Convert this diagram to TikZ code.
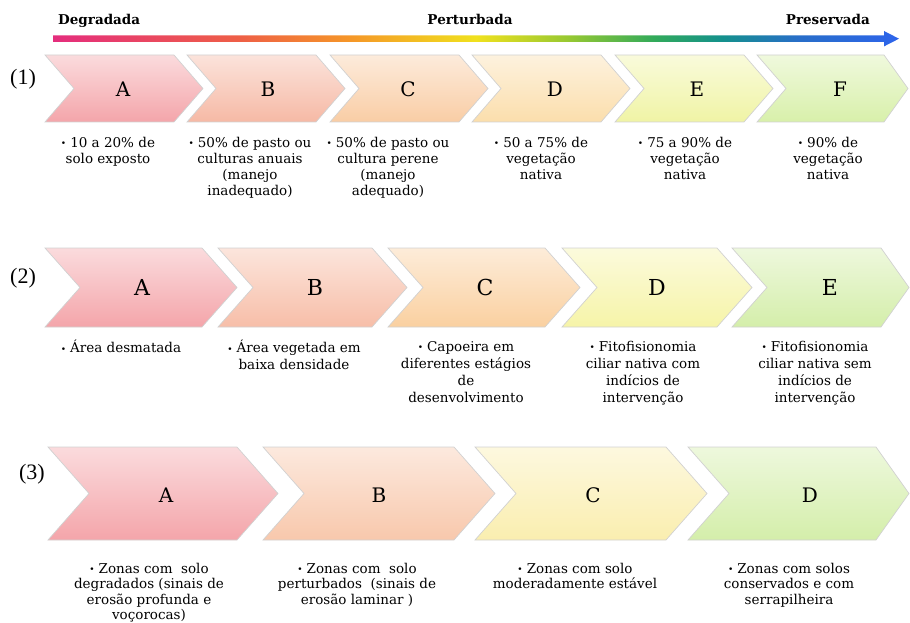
\documentclass[tikz,border=0pt]{standalone}
\usepackage{fontspec}
\setmainfont{DejaVu Serif}
\newfontfamily\timesfont{Liberation Serif}
\definecolor{sp1}{RGB}{228,45,125}
\definecolor{sp2}{RGB}{238,95,70}
\definecolor{sp3}{RGB}{245,150,40}
\definecolor{sp4}{RGB}{240,225,30}
\definecolor{sp5}{RGB}{150,200,50}
\definecolor{sp6}{RGB}{50,170,90}
\definecolor{sp7}{RGB}{20,145,140}
\definecolor{sp8}{RGB}{40,110,200}
\definecolor{sp9}{RGB}{45,100,235}
\pgfdeclarehorizontalshading{spectrum}{100bp}{color(0bp)=(sp1); color(25bp)=(sp1); color(36bp)=(sp2); color(42.5bp)=(sp3); color(50bp)=(sp4); color(55.5bp)=(sp5); color(60.5bp)=(sp6); color(64.5bp)=(sp7); color(69bp)=(sp8); color(75bp)=(sp9); color(100bp)=(sp9)}
\definecolor{rA}{RGB}{244,165,170}
\definecolor{rB}{RGB}{246,185,165}
\definecolor{rC}{RGB}{249,205,165}
\definecolor{rD}{RGB}{251,222,172}
\definecolor{rE}{RGB}{240,244,165}
\definecolor{rF}{RGB}{216,240,170}
\definecolor{sB}{RGB}{247,190,168}
\definecolor{sC}{RGB}{250,208,160}
\definecolor{sD}{RGB}{246,244,168}
\definecolor{sE}{RGB}{212,238,170}
\definecolor{tB}{RGB}{248,200,172}
\definecolor{tC}{RGB}{250,238,175}
% #1 left x, #2 top y, #3 bottom y, #4 tip x, #5 left depth, #6 right depth, #7 colour
\newcommand\drawchev[7]{%
  \shade[chevfill=#7] (#1,#2) -- ({#4-#6},#2) -- (#4,{(#2+#3)/2}) -- ({#4-#6},#3) -- (#1,#3) -- ({#1+#5},{(#2+#3)/2}) -- cycle;}
\newcommand\bul{{\fontsize{9}{9}\selectfont\raisebox{0.6pt}{•}}\hspace{4pt}}
\begin{document}
\begin{tikzpicture}[x=1pt,y=-1pt,
  chevfill/.style={draw=black!18, line width=0.7pt, top color=#1!40!white, bottom color=#1},
  bigletter/.style={font=\fontsize{20}{20}\selectfont, inner sep=0},
  bigletterb/.style={font=\fontsize{22}{22}\selectfont, inner sep=0},
  desc/.style={font=\fontsize{13.5}{16}\selectfont, align=center, inner sep=0, anchor=north},
  descb/.style={font=\fontsize{13.5}{17}\selectfont, align=center, inner sep=0, anchor=north},
  descc/.style={font=\fontsize{13.5}{15.5}\selectfont, align=center, inner sep=0, anchor=north},
  title/.style={font=\bfseries\fontsize{13.5}{13.5}\selectfont, inner sep=0},
  rowlabel/.style={font=\timesfont\fontsize{22}{22}\selectfont, inner sep=0}]
\useasboundingbox (0,0) rectangle (910,623);

% scale bar
\shade[shading=spectrum] (53,35.5) -- (884,35.5) -- (884,31) -- (899,38.7) -- (884,46.4) -- (884,42) -- (53,42) -- cycle;
\node[title, anchor=base west] (tdeg) at (58,25) {Degradada};
\node[title, anchor=base] (tper) at (470,25) {Perturbada};
\node[title, anchor=base east] (tpre) at (870,25) {Preservada};

% row labels
\node[rowlabel] (l1) at (23,79) {(1)};
\node[rowlabel] (l2) at (23,278) {(2)};
\node[rowlabel] (l3) at (32,474) {(3)};

% row 1
\drawchev{45}{55}{122}{203}{29}{29}{rA}
\drawchev{187}{55}{122}{345}{29}{29}{rB}
\drawchev{330}{55}{122}{488}{29}{29}{rC}
\drawchev{472}{55}{122}{630}{29}{29}{rD}
\drawchev{615}{55}{122}{773}{29}{29}{rE}
\drawchev{757}{55}{122}{908}{29}{24}{rF}
\node[bigletter] (a1) at (123,89) {A};
\node[bigletter] (b1) at (268,89) {B};
\node[bigletter] (c1) at (408,89) {C};
\node[bigletter] (d1) at (555,89) {D};
\node[bigletter] (e1) at (697,89) {E};
\node[bigletter] (f1) at (840,89) {F};
\node[desc] (ta1) at (108,136) {\rule{0pt}{11pt}\bul 10 a 20\% de\\solo exposto};
\node[desc] (tb1) at (250,136) {\rule{0pt}{11pt}\bul 50\% de pasto ou\\culturas anuais\\(manejo\\inadequado)};
\node[desc] (tc1) at (388,136) {\rule{0pt}{11pt}\bul 50\% de pasto ou\\cultura perene\\(manejo\\adequado)};
\node[desc] (td1) at (541,136) {\rule{0pt}{11pt}\bul 50 a 75\% de\\vegetação\\nativa};
\node[desc] (te1) at (685,136) {\rule{0pt}{11pt}\bul 75 a 90\% de\\vegetação\\nativa};
\node[desc] (tf1) at (828,136) {\rule{0pt}{11pt}\bul 90\% de\\vegetação\\nativa};

% row 2
\drawchev{45}{248}{327}{237}{35}{35}{rA}
\drawchev{218}{248}{327}{407}{35}{35}{sB}
\drawchev{388}{248}{327}{580}{35}{35}{sC}
\drawchev{562}{248}{327}{752}{35}{35}{sD}
\drawchev{732}{248}{327}{909}{35}{28}{sE}
\node[bigletterb] (a2) at (142,287) {A};
\node[bigletterb] (b2) at (315,287) {B};
\node[bigletterb] (c2) at (485,287) {C};
\node[bigletterb] (d2) at (657,287) {D};
\node[bigletterb] (e2) at (830,287) {E};
\node[descb] (ta2) at (121,340) {\rule{0pt}{11pt}\bul Área desmatada};
\node[descb] (tb2) at (294,340) {\rule{0pt}{11pt}\bul Área vegetada em\\baixa densidade};
\node[descb] (tc2) at (466,340) {\rule{0pt}{11pt}\bul Capoeira em\\diferentes estágios\\de\\desenvolvimento};
\node[descb] (td2) at (643,340) {\rule{0pt}{11pt}\bul Fitofisionomia\\ciliar nativa com\\indícios de\\intervenção};
\node[descb] (te2) at (815,340) {\rule{0pt}{11pt}\bul Fitofisionomia\\ciliar nativa sem\\indícios de\\intervenção};

% row 3
\drawchev{48}{447}{540}{278}{41}{41}{rA}
\drawchev{263}{447}{540}{495}{41}{41}{tB}
\drawchev{475}{447}{540}{707}{41}{41}{tC}
\drawchev{688}{447}{540}{909}{41}{33}{sE}
\node[bigletter] (a3) at (166,495) {A};
\node[bigletter] (b3) at (379,495) {B};
\node[bigletter] (c3) at (593,495) {C};
\node[bigletter] (d3) at (810,495) {D};
\node[descc] (ta3) at (149,562) {\rule{0pt}{11pt}\bul Zonas com\ \ solo\\degradados (sinais de\\erosão profunda e\\voçorocas)};
\node[descc] (tb3) at (357,562) {\rule{0pt}{11pt}\bul Zonas com\ \ solo\\perturbados\ \ (sinais de\\erosão laminar )};
\node[descc] (tc3) at (575,562) {\rule{0pt}{11pt}\bul Zonas com solo\\moderadamente estável};
\node[descc] (td3) at (789,562) {\rule{0pt}{11pt}\bul Zonas com solos\\conservados e com\\serrapilheira};
\end{tikzpicture}
\end{document}
